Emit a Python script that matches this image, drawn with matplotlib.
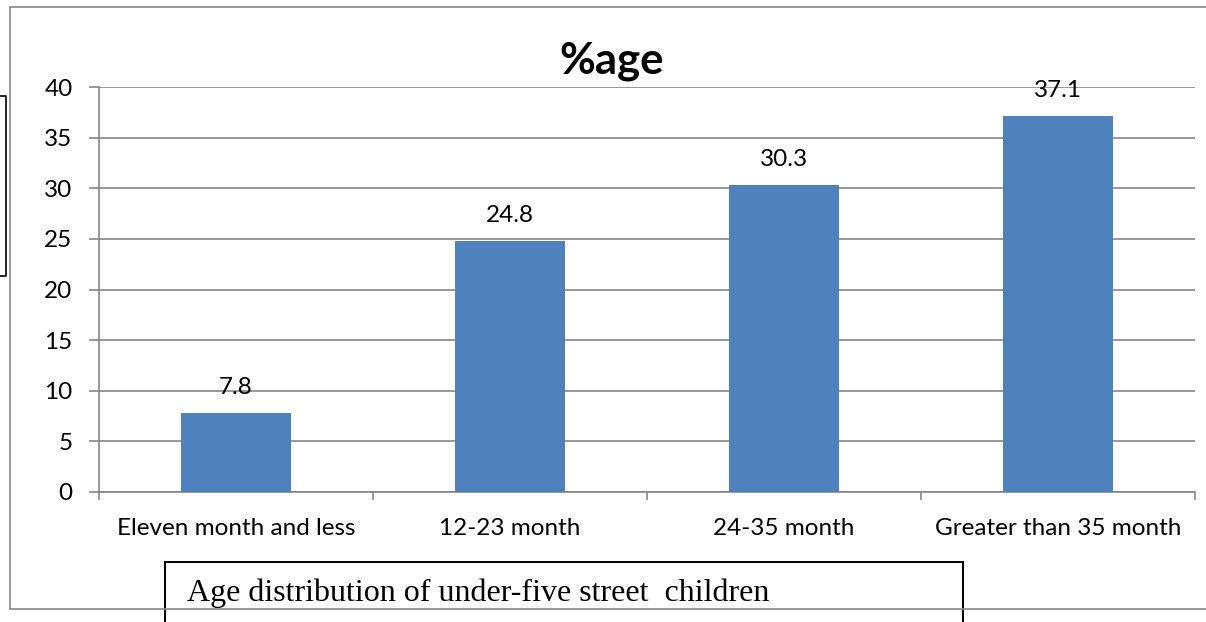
import matplotlib
matplotlib.use("Agg")
import matplotlib.pyplot as plt
from matplotlib.patches import Rectangle
from matplotlib.lines import Line2D

categories = ["Eleven month and less", "12-23 month", "24-35 month", "Greater than 35 month"]
values = [7.8, 24.8, 30.3, 37.1]
yticks = [0, 5, 10, 15, 20, 25, 30, 35, 40]
title = "%age"
caption = "Age distribution of under-five street  children"

W, H = 1206, 622
fig = plt.figure(figsize=(W / 100, H / 100), dpi=100)
fig.patch.set_facecolor("white")

def fx(x):
    return x / W

def fy(y):
    return 1 - y / H

grid_c = "#868686"
# outer chart border
fig.add_artist(Line2D([fx(10), fx(10)], [fy(7), fy(609)], color=grid_c, lw=1.2))
fig.add_artist(Line2D([fx(10), fx(1206)], [fy(7), fy(7)], color=grid_c, lw=1.2))
fig.add_artist(Line2D([fx(10), fx(1206)], [fy(609), fy(609)], color=grid_c, lw=1.2))
# small left box
fig.add_artist(Line2D([fx(0), fx(6), fx(6), fx(0)], [fy(96), fy(96), fy(276), fy(276)], color="black", lw=1.2))

ax = fig.add_axes([fx(99), fy(492), fx(1195 - 99), (492 - 87) / H])
x = range(len(categories))
ax.bar(x, values, width=0.4, color="#4F81BD", zorder=3)
ax.set_xlim(-0.5, len(categories) - 0.5)
ax.set_ylim(0, 40)
ax.set_yticks(yticks)
ax.set_yticklabels([str(v) for v in yticks], fontsize=17.5, family="Lato")
ax.set_xticks(list(x))
ax.set_xticklabels(categories, fontsize=17.5, family="Lato")
ax.tick_params(axis="x", length=0, pad=19)
ax.tick_params(axis="y", length=7, color=grid_c, width=1.2, pad=12)
# minor ticks on x at category boundaries
ax.set_xticks([-0.5, 0.5, 1.5, 2.5, 3.5], minor=True)
ax.tick_params(axis="x", which="minor", length=6, color=grid_c, width=1.2)
ax.grid(axis="y", color=grid_c, lw=1.2, zorder=0)
for s in ["top", "right"]:
    ax.spines[s].set_visible(False)
ax.spines["left"].set_color(grid_c)
ax.spines["bottom"].set_color(grid_c)
ax.spines["left"].set_linewidth(1.2)
ax.spines["bottom"].set_linewidth(1.2)
for i, v in enumerate(values):
    ax.annotate(f"{v}", (i, v), xytext=(0, 11), textcoords="offset points",
                ha="center", va="bottom", fontsize=17.5, family="Lato")

fig.text(fx(612), fy(61), title, ha="center", va="center", fontsize=31.5, fontweight="bold", family="Lato")

# caption box
fig.add_artist(Rectangle((fx(165), fy(640)), fx(963 - 165), (640 - 562) / H,
                         fill=True, facecolor="white", edgecolor="black", lw=1.4))
fig.text(fx(187), fy(593), caption, ha="left", va="center", fontsize=23, family="Liberation Serif")

fig.savefig("out.png", dpi=100)
